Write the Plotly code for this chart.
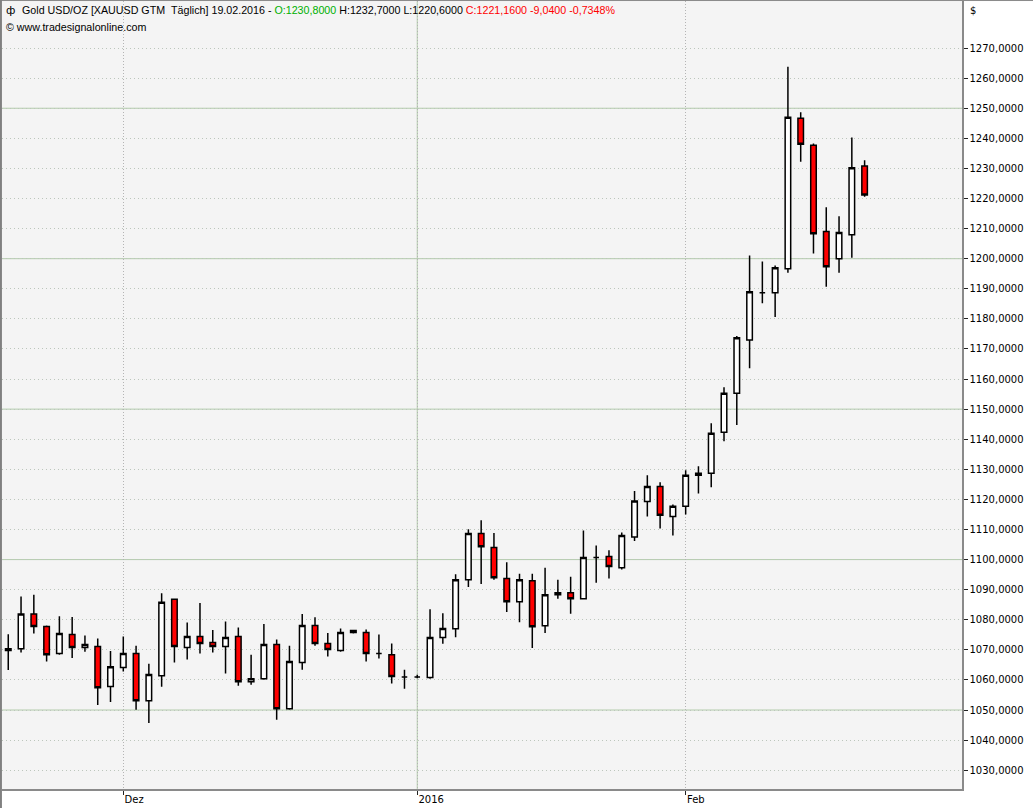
import plotly.graph_objects as go

DATES = [
    "18.11.2015", "19.11.2015", "20.11.2015", "23.11.2015", "24.11.2015", "25.11.2015",
    "26.11.2015", "27.11.2015", "30.11.2015",
    "01.12.2015", "02.12.2015", "03.12.2015", "04.12.2015", "07.12.2015", "08.12.2015",
    "09.12.2015", "10.12.2015", "11.12.2015", "14.12.2015", "15.12.2015", "16.12.2015",
    "17.12.2015", "18.12.2015", "21.12.2015", "22.12.2015", "23.12.2015", "24.12.2015",
    "25.12.2015", "28.12.2015", "29.12.2015", "30.12.2015", "31.12.2015",
    "01.01.2016", "04.01.2016", "05.01.2016", "06.01.2016", "07.01.2016", "08.01.2016",
    "11.01.2016", "12.01.2016", "13.01.2016", "14.01.2016", "15.01.2016", "18.01.2016",
    "19.01.2016", "20.01.2016", "21.01.2016", "22.01.2016", "25.01.2016", "26.01.2016",
    "27.01.2016", "28.01.2016", "29.01.2016",
    "01.02.2016", "02.02.2016", "03.02.2016", "04.02.2016", "05.02.2016", "08.02.2016",
    "09.02.2016", "10.02.2016", "11.02.2016", "12.02.2016", "15.02.2016", "16.02.2016",
    "17.02.2016", "18.02.2016", "19.02.2016",
]

OPEN = [
    1069.8, 1070.4, 1081.9, 1077.8, 1068.8, 1075.1, 1070.8, 1071.1, 1057.8, 1064.1,
    1068.8, 1053.1, 1061.4, 1086.8, 1070.8, 1074.4, 1072.4, 1071.1, 1074.4, 1059.4,
    1060.4, 1071.8, 1050.4, 1065.8, 1078.1, 1072.1, 1069.8, 1075.8, 1075.8, 1068.8,
    1068.4, 1061.0, 1061.0, 1060.8, 1074.1, 1077.0, 1093.3, 1108.7, 1104.0, 1093.7,
    1086.0, 1093.0, 1078.0, 1088.3, 1089.0, 1087.0, 1100.7, 1101.0, 1097.3, 1107.5,
    1119.3, 1124.3, 1114.3, 1117.7, 1128.0, 1128.7, 1142.3, 1155.3, 1173.0, 1188.7,
    1188.7, 1196.7, 1246.7, 1237.7, 1209.0, 1200.0, 1208.0, 1230.8,
]
HIGH = [
    1075.2, 1087.7, 1088.3, 1078.1, 1081.2, 1080.9, 1074.8, 1073.8, 1069.6, 1074.4,
    1071.4, 1065.4, 1088.8, 1086.8, 1079.1, 1085.6, 1076.6, 1079.4, 1077.4, 1068.4,
    1078.6, 1073.4, 1071.4, 1081.9, 1080.8, 1075.6, 1077.1, 1076.4, 1076.8, 1075.1,
    1072.1, 1063.4, 1061.7, 1083.5, 1082.2, 1095.1, 1110.1, 1113.1, 1108.8, 1099.1,
    1095.3, 1095.3, 1097.3, 1093.3, 1094.3, 1109.7, 1104.7, 1103.1, 1109.0, 1122.8,
    1128.0, 1125.7, 1118.3, 1129.7, 1131.0, 1145.3, 1157.3, 1174.3, 1201.1, 1199.1,
    1197.7, 1263.8, 1248.7, 1238.3, 1217.1, 1214.1, 1240.3, 1232.7,
]
LOW = [
    1063.3, 1069.1, 1075.4, 1066.1, 1068.4, 1067.3, 1069.4, 1051.7, 1052.7, 1062.8,
    1050.1, 1045.7, 1057.7, 1065.8, 1066.8, 1068.8, 1069.1, 1062.1, 1058.1, 1058.4,
    1060.1, 1046.8, 1050.1, 1063.4, 1071.4, 1067.8, 1069.4, 1075.4, 1066.1, 1067.1,
    1058.8, 1057.1, 1060.6, 1060.4, 1072.0, 1074.2, 1090.9, 1091.9, 1093.3, 1082.6,
    1079.2, 1070.6, 1075.6, 1087.0, 1082.0, 1086.7, 1092.3, 1093.7, 1096.7, 1106.2,
    1114.3, 1110.3, 1108.0, 1115.0, 1122.0, 1124.0, 1139.3, 1144.7, 1163.6, 1185.2,
    1180.6, 1195.3, 1232.2, 1201.7, 1190.7, 1195.3, 1200.3, 1220.6,
]
CLOSE = [
    1070.4, 1081.9, 1077.8, 1068.4, 1075.4, 1070.8, 1071.8, 1057.4, 1064.4, 1068.8,
    1053.1, 1061.8, 1085.8, 1071.1, 1074.4, 1072.1, 1071.1, 1074.1, 1059.4, 1060.4,
    1071.8, 1050.4, 1066.1, 1078.1, 1072.1, 1070.1, 1075.8, 1076.4, 1068.8, 1068.8,
    1061.1, 1061.0, 1061.0, 1074.1, 1077.1, 1093.3, 1108.7, 1104.3, 1094.0, 1086.0,
    1093.3, 1077.7, 1088.3, 1089.0, 1087.0, 1100.7, 1100.7, 1097.7, 1108.0, 1119.5,
    1124.3, 1114.7, 1117.7, 1128.0, 1128.7, 1142.0, 1155.3, 1173.7, 1189.0, 1188.7,
    1197.0, 1247.0, 1238.0, 1208.3, 1197.3, 1208.7, 1230.2, 1221.16,
]

X_TICK_VALS = ["01.12.2015", "01.01.2016", "01.02.2016"]
X_TICK_TEXT = ["Dez", "2016", "Feb"]
X_SOLID_GRID = ["01.01.2016"]
Y_TICKS = [1030, 1040, 1050, 1060, 1070, 1080, 1090, 1100, 1110, 1120, 1130, 1140,
           1150, 1160, 1170, 1180, 1190, 1200, 1210, 1220, 1230, 1240, 1250, 1260, 1270]
Y_SOLID_GRID = [1050, 1100, 1150, 1200, 1250]

FONT = "DejaVu Sans"
TITLE_FONT = "Liberation Sans"
DOT_GRID = "#bcc6bc"
SOLID_GRID = "#b2cbab"

fig = go.Figure()
fig.add_trace(go.Candlestick(
    x=DATES, open=OPEN, high=HIGH, low=LOW, close=CLOSE,
    increasing=dict(line=dict(color="black", width=1.5), fillcolor="white"),
    decreasing=dict(line=dict(color="black", width=1.5), fillcolor="#ff0000"),
    whiskerwidth=0, showlegend=False, hoverinfo="skip",
))

shapes = []
for v in Y_SOLID_GRID:
    shapes.append(dict(type="line", xref="paper", x0=0, x1=1, yref="y", y0=v, y1=v,
                       line=dict(color=SOLID_GRID, width=1), layer="below"))
for d in X_SOLID_GRID:
    shapes.append(dict(type="line", xref="x", x0=d, x1=d, yref="paper", y0=0, y1=1,
                       line=dict(color=SOLID_GRID, width=1), layer="below"))
# frame lines
shapes.append(dict(type="line", xref="paper", yref="paper", x0=-0.0021, x1=1.075,
                   y0=1.0006, y1=1.0006, line=dict(color="#8a8a8a", width=1)))
shapes.append(dict(type="line", xref="paper", yref="paper", x0=-0.0011, x1=-0.0011,
                   y0=-0.03, y1=1.002, line=dict(color="#808080", width=2)))

fig.update_layout(
    width=1033, height=808,
    margin=dict(l=2, r=71, t=1, b=19),
    paper_bgcolor="white", plot_bgcolor="#f4f4f4",
    separators=",.",
    boxgap=0.38,
    shapes=shapes,
    showlegend=False,
    xaxis=dict(
        type="category", range=[-0.49, 74.62], rangeslider=dict(visible=False),
        tickvals=X_TICK_VALS, ticktext=X_TICK_TEXT,
        ticks="outside", ticklen=4, tickcolor="#222", tickwidth=1,
        ticklabelposition="outside right",
        tickfont=dict(family=FONT, size=10, color="black"),
        showgrid=True, gridcolor="#b4b4b4", griddash="1px,2px", gridwidth=1,
        showline=True, linecolor="#8a8a8a", linewidth=1.5, mirror=False,
        zeroline=False, fixedrange=True,
    ),
    yaxis=dict(
        side="right", range=[1023.75, 1285.65], tickvals=Y_TICKS,
        tickformat=".4f",
        ticks="outside", ticklen=4, tickcolor="#222", tickwidth=1,
        tickfont=dict(family=FONT, size=10, color="black"),
        showgrid=True, gridcolor=DOT_GRID, griddash="1px,3px", gridwidth=1,
        showline=True, linecolor="#8a8a8a", linewidth=1.5,
        zeroline=False, fixedrange=True,
    ),
    annotations=[
        dict(xref="paper", yref="paper", x=0.0025, y=0.9885, xanchor="left", yanchor="middle",
             text="ф", showarrow=False, font=dict(family=FONT, size=11, color="black")),
        dict(xref="paper", yref="paper", x=0.0188, y=0.9885, xanchor="left", yanchor="middle",
             showarrow=False, font=dict(family=TITLE_FONT, size=10.7, color="black"),
             text=("Gold USD/OZ [XAUUSD GTM&nbsp;&nbsp;Täglich] 19.02.2016 - "
                   "<span style='color:#00b000'>O:1230,8000</span> H:1232,7000 L:1220,6000 "
                   "<span style='color:#ff0000'>C:1221,1600 -9,0400 -0,7348%</span>")),
        dict(xref="paper", yref="paper", x=0.0025, y=0.9675, xanchor="left", yanchor="middle",
             showarrow=False, font=dict(family=TITLE_FONT, size=10.7, color="black"),
             text="© www.tradesignalonline.com"),
        dict(xref="paper", yref="paper", x=1.006, y=0.988, xanchor="left", yanchor="middle",
             showarrow=False, font=dict(family=FONT, size=10, color="black"), text="$"),
    ],
)

fig.write_html(
    "out.html",
    config={"displayModeBar": False, "staticPlot": True},
    post_script="document.body.style.margin='0px';document.body.style.overflow='hidden';",
)
